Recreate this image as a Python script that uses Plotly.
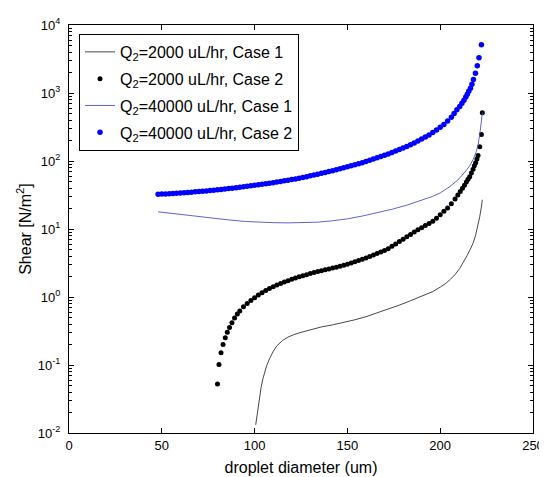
import plotly.graph_objects as go

# Q2 = 2000 uL/hr, Case 1 (thin black line)
x_2000_c1 = [100.6, 101.2, 101.9, 102.6, 103.5, 104.5, 105.5, 106.5, 108, 110, 112, 115, 118, 121, 125,
             130, 136, 142, 148, 154, 160, 166, 172, 178, 184, 190, 196, 200, 203, 205.5, 208, 210.5,
             212.5, 214.5, 216, 217.7, 219, 220.3, 221.3, 222.1, 222.7]
y_2000_c1 = [0.0132, 0.0178, 0.0251, 0.0324, 0.0468, 0.0631, 0.0794, 0.0977, 0.123, 0.158, 0.191, 0.229,
             0.257, 0.279, 0.302, 0.331, 0.363, 0.389, 0.422, 0.462, 0.513, 0.582, 0.661, 0.759, 0.881,
             1.023, 1.202, 1.396, 1.585, 1.820, 2.138, 2.630, 3.236, 4.074, 4.898, 6.166, 7.943, 10.96,
             15.14, 20.42, 26.92]

# Q2 = 2000 uL/hr, Case 2 (black dots)
x_2000_c2 = [80.0, 80.8, 81.9, 83.0, 84.2, 85.3, 86.5, 87.8, 89.2, 90.7,
             92, 94, 96, 98, 100, 102, 104, 106, 108, 110, 112, 114, 116, 118, 120, 122, 124, 126, 128,
             130, 132, 134, 136, 138, 140, 142, 144, 146, 148, 150, 152, 154, 156, 158, 160, 162, 164,
             166, 168, 170, 172, 174, 176, 178, 180, 182, 184, 186, 188, 190, 192, 194, 196, 198, 200,
             202, 204, 206, 208,
             209.5, 210.8, 212, 213.1, 214.1, 215, 215.9, 216.8, 217.7, 218.4, 219.1, 219.8, 220.4,
             221.3, 222.2, 222.7]
y_2000_c2 = [0.0525, 0.102, 0.151, 0.200, 0.251, 0.302, 0.355, 0.417, 0.490, 0.562,
             0.624, 0.716, 0.804, 0.891, 0.977, 1.072, 1.153, 1.242, 1.334, 1.419, 1.496, 1.581, 1.660,
             1.738, 1.820, 1.905, 1.977, 2.051, 2.128, 2.208, 2.291, 2.366, 2.438, 2.512, 2.588, 2.661,
             2.742, 2.831, 2.924, 3.027, 3.162, 3.296, 3.436, 3.589, 3.758, 3.936, 4.130, 4.345, 4.581,
             4.842, 5.129, 5.559, 6.026, 6.531, 7.079, 7.674, 8.318, 9.016, 9.772, 10.47, 11.22, 12.02,
             13.03, 14.45, 16.22, 18.20, 20.42, 23.44, 27.54,
             31.62, 35.48, 39.81, 44.16, 48.98, 53.70, 58.88, 66.83, 75.86, 85.11, 94.41, 107.2, 120.2,
             162.2, 245.5, 512.9]

# Q2 = 40000 uL/hr, Case 1 (thin blue line)
x_40000_c1 = [48, 55, 62, 70, 78, 86, 95, 102, 110, 118, 126, 134, 142, 150, 158, 166, 174, 182, 189,
              196, 200, 205, 209.5, 212.3, 214, 215.9, 217.7, 219.5, 220.5, 221.6, 222.7]
y_40000_c1 = [17.9, 17.0, 16.0, 15.1, 14.3, 13.6, 12.9, 12.6, 12.4, 12.3, 12.3, 12.6, 13.2, 14.1, 15.5,
              17.2, 19.5, 22.4, 25.7, 30.2, 33.9, 41.7, 52.5, 63.1, 72.4, 85.1, 104.7, 138.0, 177.8,
              281.8, 512.9]

# Q2 = 40000 uL/hr, Case 2 (blue dots)
x_40000_c2 = [48, 50, 52, 54, 56, 58, 60, 62, 64, 66, 68, 70, 72, 74, 76, 78, 80, 82, 84, 86, 88, 90,
              92, 94, 96, 98, 100, 102, 104, 106, 108, 110, 112, 114, 116, 118, 120, 122, 124, 126, 128,
              130, 132, 134, 136, 138, 140, 142, 144, 146, 148, 150, 152, 154, 156, 158, 160, 162, 164,
              166, 168, 170, 172, 174, 176, 178, 180, 182, 184, 186, 188, 190, 192, 194, 196, 198, 200,
              202, 204, 206,
              207.5, 209, 210.5, 211.7, 212.8, 213.8, 214.6, 215.4, 216.3, 217.1, 217.9, 219.0, 220.0,
              220.9, 222.2]
y_40000_c2 = [32.43, 32.58, 32.81, 33.04, 33.27, 33.57, 33.88, 34.20, 34.51, 34.83, 35.16, 35.48, 35.89,
              36.31, 36.73, 37.24, 37.67, 38.19, 38.73, 39.26, 39.81, 40.46, 41.11, 41.78, 42.46, 43.15,
              43.85, 44.57, 45.39, 46.24, 47.10, 47.97, 48.98, 50.00, 51.05, 52.24, 53.33, 54.58, 55.98,
              57.41, 58.88, 60.53, 62.23, 63.97, 65.77, 67.76, 69.82, 72.11, 74.30, 76.74, 79.43, 82.04,
              84.92, 87.90, 91.20, 94.62, 98.40, 102.6, 106.7, 111.2, 116.1, 121.3, 127.1, 133.4, 140.0,
              147.2, 154.9, 163.7, 173.4, 184.1, 196.3, 209.9, 224.9, 242.1, 261.8, 285.1, 312.6, 345.1,
              387.3, 441.6,
              501.2, 568.9, 631.0, 707.9, 785.2, 871.0, 955.0, 1059, 1175, 1349, 1585, 1950, 2512, 3311,
              5129]

x_ticks = [0, 50, 100, 150, 200, 250]
y_ticks = [1e-2, 1e-1, 1e0, 1e1, 1e2, 1e3, 1e4]
y_tick_text = ["10<sup>-2</sup>", "10<sup>-1</sup>", "10<sup>0</sup>", "10<sup>1</sup>",
               "10<sup>2</sup>", "10<sup>3</sup>", "10<sup>4</sup>"]

names = ["Q<sub>2</sub>=2000 uL/hr, Case 1", "Q<sub>2</sub>=2000 uL/hr, Case 2",
         "Q<sub>2</sub>=40000 uL/hr, Case 1", "Q<sub>2</sub>=40000 uL/hr, Case 2"]

fig = go.Figure()
fig.add_trace(go.Scatter(x=x_2000_c1, y=y_2000_c1, mode="lines", name=names[0], legendgroup="a",
                         line=dict(color="#333333", width=0.9)))
fig.add_trace(go.Scatter(x=x_2000_c2, y=y_2000_c2, mode="markers", name=names[1], legendgroup="b",
                         marker=dict(color="black", size=5, line=dict(width=0))))
fig.add_trace(go.Scatter(x=x_40000_c1, y=y_40000_c1, mode="lines", name=names[2], legendgroup="c",
                         line=dict(color="#5050cc", width=0.9)))
fig.add_trace(go.Scatter(x=x_40000_c2, y=y_40000_c2, mode="markers", name=names[3], legendgroup="d",
                         marker=dict(color="#0000ff", size=5.5, line=dict(width=0))))

font_family = "Liberation Sans, Arial, Helvetica, sans-serif"

# The page body adds an 8px offset; the figure is sized to fit the 547x477 window.
fig.update_layout(
    width=539, height=469,
    margin=dict(l=61, r=14, t=17, b=44),
    paper_bgcolor="white", plot_bgcolor="white",
    font=dict(family=font_family, color="black", size=13),
    showlegend=True,
    legend=dict(x=0.0216, y=0.978, xanchor="left", yanchor="top",
                bordercolor="black", borderwidth=1, bgcolor="white",
                font=dict(size=16, family=font_family), tracegroupgap=3),
)
fig.update_xaxes(
    range=[0, 250], tickvals=x_ticks, ticks="inside", ticklen=5, tickcolor="black",
    showline=True, linecolor="black", linewidth=1, mirror="ticks", showgrid=False, zeroline=False,
    automargin=False,
    title=dict(text="droplet diameter (um)", font=dict(size=16), standoff=10),
    tickfont=dict(size=13),
)
fig.update_yaxes(
    type="log", range=[-2, 4], tickvals=y_ticks, ticktext=y_tick_text,
    ticks="inside", ticklen=5, tickcolor="black", ticklabelstandoff=5,
    minor=dict(ticks="inside", ticklen=3, tickcolor="black", dtick="D1", showgrid=False),
    showline=True, linecolor="black", linewidth=1, mirror="ticks", showgrid=False, zeroline=False,
    automargin=False,
    title=dict(text="Shear [N/m<sup>2</sup>]", font=dict(size=16), standoff=2),
    tickfont=dict(size=13),
)

fig.write_html("out.html")
